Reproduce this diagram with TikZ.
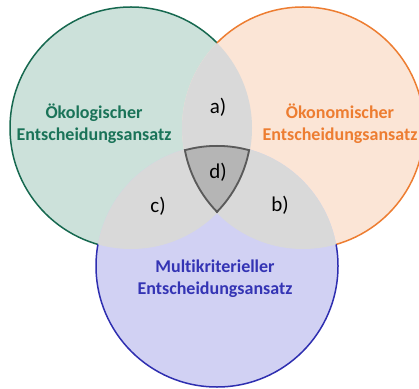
\documentclass[tikz,border=0pt]{standalone}
\usepackage{fontspec}
\setmainfont{Carlito}[Ligatures={NoCommon}]
\definecolor{gfill}{HTML}{CCE1DA}
\definecolor{gline}{HTML}{16684F}
\definecolor{gtext}{HTML}{1A7358}
\definecolor{ofill}{HTML}{FBE5D6}
\definecolor{oline}{HTML}{ED7D31}
\definecolor{bfill}{HTML}{D1D1F3}
\definecolor{bline}{HTML}{2E2EB0}
\definecolor{btext}{HTML}{3434B4}
\definecolor{lens}{HTML}{D9D9D9}
\definecolor{dfill}{HTML}{B5B5B5}
\definecolor{dline}{HTML}{5A5A5A}
\tikzset{
  circlabel/.style={font=\bfseries\fontsize{18}{22}\selectfont, align=center},
  regionlabel/.style={font=\fontsize{21}{24}\selectfont},
}
\def\rr{121}
\begin{document}
\begin{tikzpicture}[x=1pt,y=1pt]
\useasboundingbox (0,0) rectangle (419,388);
\coordinate (G) at (131,260);
\coordinate (O) at (303,260);
\coordinate (B) at (217,122);
% fills
\fill[gfill] (G) circle (\rr);
\fill[ofill] (O) circle (\rr);
\fill[bfill] (B) circle (\rr);
% lenses
\begin{scope}\clip (G) circle (\rr); \fill[lens] (O) circle (\rr); \end{scope}
\begin{scope}\clip (G) circle (\rr); \fill[lens] (B) circle (\rr); \end{scope}
\begin{scope}\clip (O) circle (\rr); \fill[lens] (B) circle (\rr); \end{scope}
% centre region
\begin{scope}
  \clip (G) circle (\rr);
  \clip (O) circle (\rr);
  \clip (B) circle (\rr);
  \fill[dfill] (B) circle (\rr);
  \draw[dline, line width=3.6pt] (B) circle (\rr);
  \draw[dline, line width=3.6pt] (G) circle (\rr);
  \draw[dline, line width=3.6pt] (O) circle (\rr);
\end{scope}
% outlines, only outside the other circles
\begin{scope}
  \clip (0,0) -- (0,388) -- (419,388) -- (419,0) -- cycle (O) circle (\rr);
  \clip (0,0) -- (0,388) -- (419,388) -- (419,0) -- cycle (B) circle (\rr);
  \draw[gline, line width=1.5pt] (G) circle (\rr);
\end{scope}
\begin{scope}
  \clip (0,0) -- (0,388) -- (419,388) -- (419,0) -- cycle (G) circle (\rr);
  \clip (0,0) -- (0,388) -- (419,388) -- (419,0) -- cycle (B) circle (\rr);
  \draw[oline, line width=1.5pt] (O) circle (\rr);
\end{scope}
\begin{scope}
  \clip (0,0) -- (0,388) -- (419,388) -- (419,0) -- cycle (G) circle (\rr);
  \clip (0,0) -- (0,388) -- (419,388) -- (419,0) -- cycle (O) circle (\rr);
  \draw[bline, line width=1.5pt] (B) circle (\rr);
\end{scope}
% labels
\node[circlabel, text=gtext] (gl) at (94,264) {Ökologischer\\Entscheidungsansatz};
\node[circlabel, text=oline] (ol) at (340,264) {Ökonomischer\\Entscheidungsansatz};
\node[circlabel, text=btext] (bl) at (215,109) {Multikriterieller\\Entscheidungsansatz};
\node[regionlabel] (la) at (218,281) {a)};
\node[regionlabel] (lb) at (280,183) {b)};
\node[regionlabel] (lc) at (158,182) {c)};
\node[regionlabel] (ld) at (218,216) {d)};
\end{tikzpicture}
\end{document}
